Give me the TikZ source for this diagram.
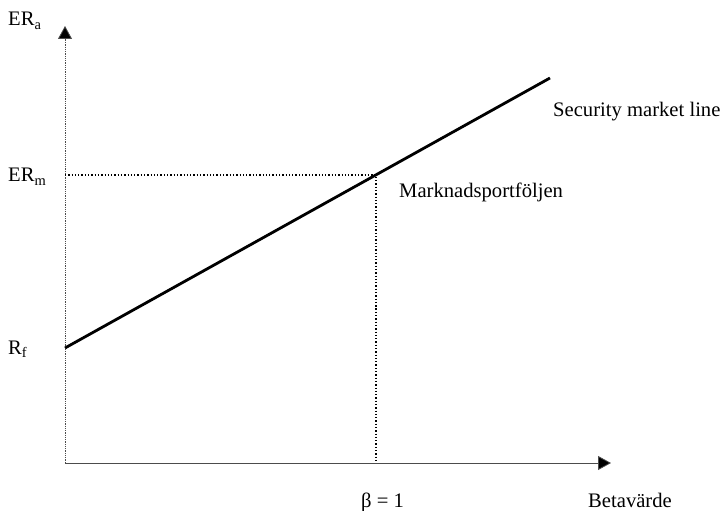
\documentclass[tikz,border=0pt]{standalone}
\usepackage{fontspec}
\setmainfont{Liberation Serif}
\usetikzlibrary{arrows.meta}
\begin{document}
\begin{tikzpicture}[x=1bp,y=-1bp,
  lbl/.style={anchor=base west,inner sep=0pt,font=\fontsize{20.7}{24}\selectfont},
  axis/.style={line width=0.8bp,black!70,-{Triangle[length=13bp,width=14bp,fill=black]}},
  guide/.style={line width=1.3bp,dotted},
  sml/.style={line width=2.8bp}]
\useasboundingbox (0,0) rectangle (721,511);
\coordinate (O) at (65,463);
\coordinate (ytop) at (65,26);
\coordinate (xend) at (611,463);
\coordinate (rf) at (65,348);
\coordinate (smlend) at (550,78);
\coordinate (M) at (376,175);
\coordinate (ermax) at (65,175);
\coordinate (bfoot) at (376,463);
\draw[axis,densely dotted] (O) -- (ytop);
\draw[axis] (O) -- (xend);
\draw[guide] (ermax) -- (M) -- (bfoot);
\draw[sml] (rf) -- (smlend);
\node[lbl] (tERa) at (8,26) {ER\textsubscript{a}};
\node[lbl] (tERm) at (8,182) {ER\textsubscript{m}};
\node[lbl] (tRf) at (8,354) {R\textsubscript{f}};
\node[lbl] (tbeta) at (361,507) {β = 1};
\node[lbl] (tbeta2) at (588,507) {Betavärde};
\node[lbl] (tsml) at (553,117) {Security market line};
\node[lbl] (tmp) at (399,198) {Marknadsportföljen};
\end{tikzpicture}
\end{document}
